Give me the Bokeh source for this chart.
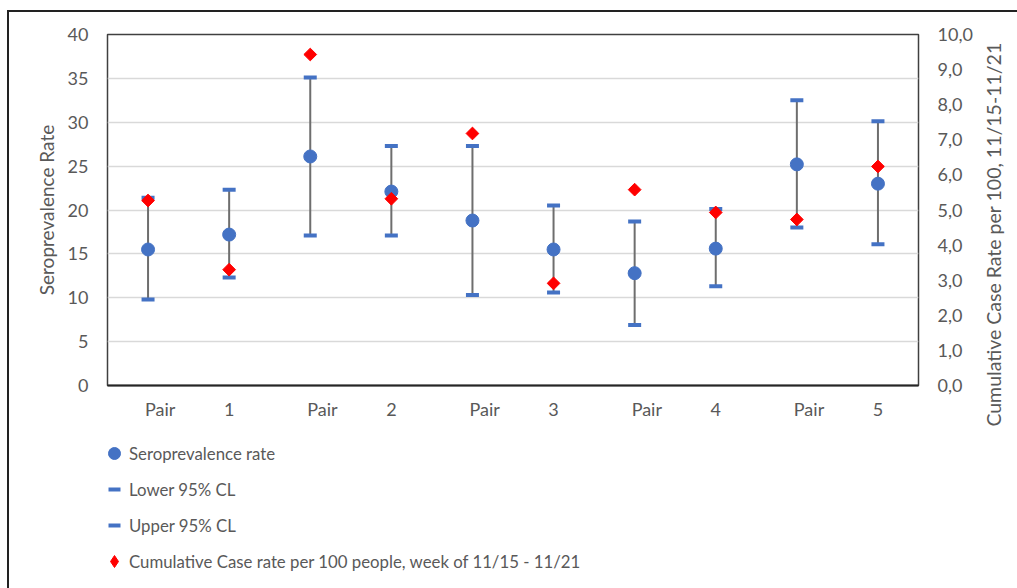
import math
from bokeh.plotting import figure
from bokeh.models import Range1d, LinearAxis, FixedTicker, Legend, LegendItem, Label
from bokeh.layouts import column, row
from bokeh.embed import file_html
from bokeh.resources import INLINE

# ---- data ----
categories = ["Pair", "1", "Pair", "2", "Pair", "3", "Pair", "4", "Pair", "5"]
sero_rate = [15.5, 17.2, 26.1, 22.1, 18.8, 15.5, 12.8, 15.6, 25.2, 23.0]
lower_cl = [9.8, 12.3, 17.1, 17.1, 10.3, 10.6, 6.9, 11.3, 18.0, 16.1]
upper_cl = [21.4, 22.3, 35.1, 27.3, 27.3, 20.5, 18.7, 20.1, 32.5, 30.1]
case_rate = [5.27, 3.30, 9.43, 5.32, 7.18, 2.91, 5.58, 4.93, 4.73, 6.24]

left_ticks = [0, 5, 10, 15, 20, 25, 30, 35, 40]
right_ticks = [0, 1, 2, 3, 4, 5, 6, 7, 8, 9, 10]
right_labels = ["0,0", "1,0", "2,0", "3,0", "4,0", "5,0", "6,0", "7,0", "8,0", "9,0", "10,0"]

legend_labels = ["Seroprevalence rate", "Lower 95% CL", "Upper 95% CL",
                 "Cumulative Case rate per 100 people, week of 11/15 - 11/21"]
left_title = "Seroprevalence Rate"
right_title = "Cumulative Case Rate per 100, 11/15-11/21"

# ---- styling ----
FONT = "Lato"
TXT = "#595959"
BLUE = "#4472C4"
RED = "#FF0000"

xs = [i + 0.5 for i in range(len(categories))]
label_pos = [i + 0.5 + (0.15 if c == "Pair" else 0.0) for i, c in enumerate(categories)]

TOTAL_H = 576
MAIN_W = 969
MAIN_H = 420

# ---------------- main chart ----------------
p = figure(width=MAIN_W, height=MAIN_H,
           x_range=Range1d(0, len(categories)), y_range=Range1d(0, 40),
           output_backend="svg", toolbar_location=None,
           min_border_left=98, min_border_right=60, min_border_top=22,
           min_border_bottom=MAIN_H - 373,
           background_fill_color="white", border_fill_color="white")
p.extra_y_ranges = {"case": Range1d(0, 10)}

p.outline_line_color = "#404040"
p.outline_line_width = 1.5

p.xgrid.grid_line_color = None
p.ygrid.ticker = FixedTicker(ticks=left_ticks)
p.ygrid.grid_line_color = "#d9d9d9"
p.ygrid.grid_line_width = 1.5


def plain(ax):
    ax.major_tick_line_color = None
    ax.minor_tick_line_color = None
    ax.major_tick_out = 0
    ax.major_tick_in = 0
    ax.minor_tick_out = 0
    ax.minor_tick_in = 0
    ax.major_label_text_font = FONT
    ax.major_label_text_font_size = "18px"
    ax.major_label_text_color = TXT
    ax.axis_label_text_font = FONT
    ax.axis_label_text_font_style = "normal"
    ax.axis_label_text_color = TXT


xa = p.xaxis[0]
plain(xa)
xa.ticker = FixedTicker(ticks=label_pos)
xa.major_label_overrides = {pos: c for pos, c in zip(label_pos, categories)}
xa.axis_line_color = "#262626"
xa.axis_line_width = 2
xa.major_label_standoff = 12

ya = p.yaxis[0]
plain(ya)
ya.ticker = FixedTicker(ticks=left_ticks)
ya.axis_line_color = None
ya.major_label_standoff = 19
ya.axis_label = left_title
ya.axis_label_text_font_size = "19px"
ya.axis_label_standoff = 7

ra = LinearAxis(y_range_name="case", ticker=FixedTicker(ticks=right_ticks),
                major_label_overrides={t: l for t, l in zip(right_ticks, right_labels)})
plain(ra)
ra.axis_line_color = None
ra.major_label_standoff = 19
ra.major_label_text_align = "left"
p.add_layout(ra, "right")

p.segment(x0=xs, y0=lower_cl, x1=xs, y1=upper_cl, line_color="#6e6e6e", line_width=2)
p.scatter(xs, lower_cl, marker="dash", size=13, line_width=4, line_color=BLUE)
p.scatter(xs, upper_cl, marker="dash", size=13, line_width=4, line_color=BLUE)
p.scatter(xs, sero_rate, marker="circle", size=13, fill_color=BLUE, line_color=BLUE)
p.scatter(xs, case_rate, marker="square", angle=math.pi / 4, size=9,
          fill_color=RED, line_color=RED, y_range_name="case")


def blank(w, h):
    f = figure(width=w, height=h, x_range=Range1d(0, 1), y_range=Range1d(0, 1),
               output_backend="svg", toolbar_location=None,
               x_axis_type=None, y_axis_type=None,
               min_border=0, min_border_left=0, min_border_right=0,
               min_border_top=0, min_border_bottom=0,
               background_fill_color="white", border_fill_color="white")
    f.outline_line_color = None
    f.grid.visible = False
    return f


# ---------------- legend ----------------
LEG_H = TOTAL_H - MAIN_H
pl = blank(MAIN_W, LEG_H)
l_sero = pl.scatter(xs, sero_rate, marker="circle", fill_color=BLUE, line_color=BLUE, visible=False)
l_low = pl.scatter(xs, lower_cl, marker="dash", line_width=4, line_color=BLUE, visible=False)
l_up = pl.scatter(xs, upper_cl, marker="dash", line_width=4, line_color=BLUE, visible=False)
l_case = pl.scatter(xs, case_rate, marker="diamond", fill_color=RED, line_color=RED, visible=False)

legend = Legend(items=[LegendItem(label=legend_labels[0], renderers=[l_sero], index=0),
                       LegendItem(label=legend_labels[1], renderers=[l_low], index=0),
                       LegendItem(label=legend_labels[2], renderers=[l_up], index=0),
                       LegendItem(label=legend_labels[3], renderers=[l_case], index=0)],
                location=(-8, LEG_H - 144), orientation="vertical",
                glyph_width=30, glyph_height=30, spacing=6, padding=0, margin=0,
                label_standoff=0, label_text_font=FONT, label_text_font_size="16.8px",
                label_text_color=TXT, border_line_color=None, background_fill_alpha=0,
                inactive_fill_alpha=0)
pl.add_layout(legend)

# ---------------- right axis title (full height strip) ----------------
pt = blank(1008 - MAIN_W, TOTAL_H)
pt.add_layout(Label(x=15, y=TOTAL_H - 222, x_units="screen", y_units="screen",
                    text=right_title, angle=math.pi / 2,
                    text_align="center", text_baseline="middle",
                    text_font=FONT, text_font_size="19.5px", text_color=TXT))

layout = row(column(p, pl), pt,
             styles={"border-left": "2px solid #222222", "border-top": "2px solid #222222",
                     "margin-top": "10px", "margin-left": "7px"})

open("out.html", "w").write(file_html(layout, INLINE))
